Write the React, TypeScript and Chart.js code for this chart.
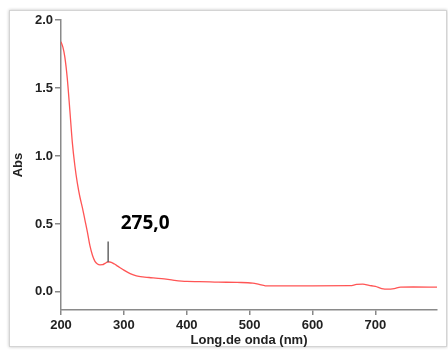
import React, { useEffect, useRef } from "react";
import { Chart, registerables } from "chart.js";

Chart.register(...registerables);

const wavelengths = [200, 203, 206, 210, 214, 218, 222, 226, 230, 234, 238, 242, 246, 250, 254, 258, 262, 266, 270, 275, 280, 285, 290, 300, 310, 320, 330, 340, 360, 380, 400, 420, 450, 480, 505, 515, 525, 560, 600, 660, 670, 680, 690, 700, 710, 720, 730, 740, 760, 798];
const absorbance = [1.84, 1.8, 1.73, 1.57, 1.34, 1.1, 0.93, 0.8, 0.7, 0.62, 0.53, 0.44, 0.34, 0.27, 0.225, 0.205, 0.199, 0.2, 0.21, 0.222, 0.218, 0.205, 0.19, 0.16, 0.135, 0.118, 0.11, 0.106, 0.098, 0.085, 0.077, 0.076, 0.072, 0.07, 0.065, 0.055, 0.045, 0.045, 0.045, 0.046, 0.055, 0.057, 0.048, 0.04, 0.025, 0.02, 0.025, 0.035, 0.036, 0.035];
const yTicks = [0, 0.5, 1.0, 1.5, 2.0];
const xTicks = [200, 300, 400, 500, 600, 700];
const peakWavelength = 275;
const peakAbs = 0.218;
const markerTop = 0.37;
const peakLabel = "275,0";

const tickFont = { family: "'Liberation Sans', Arial, sans-serif", size: 13, weight: "bold" as const };

const peakPlugin = {
  id: "peakMarker",
  afterDatasetsDraw(chart: any) {
    const { ctx, scales } = chart;
    const px = scales.x.getPixelForValue(peakWavelength);
    const yb = scales.y.getPixelForValue(peakAbs);
    const yt = scales.y.getPixelForValue(markerTop);
    ctx.save();
    ctx.strokeStyle = "#666";
    ctx.lineWidth = 1.5;
    ctx.beginPath();
    ctx.moveTo(px, yb);
    ctx.lineTo(px, yt);
    ctx.stroke();
    ctx.fillStyle = "#000";
    ctx.font = "bold 19px 'Open Sans', 'Noto Sans', sans-serif";
    ctx.textAlign = "left";
    ctx.textBaseline = "middle";
    ctx.fillText(peakLabel, px + 12.5, yt - 18);
    ctx.restore();
  },
};

export default function App() {
  const ref = useRef<HTMLCanvasElement>(null);
  useEffect(() => {
    if (!ref.current) return;
    const chart = new Chart(ref.current, {
      type: "line",
      data: {
        datasets: [
          {
            data: wavelengths.map((w, i) => ({ x: w, y: absorbance[i] })),
            borderColor: "rgb(255,85,85)",
            borderWidth: 1.3,
            pointRadius: 0,
            cubicInterpolationMode: "monotone",
            fill: false,
          },
        ],
      },
      options: {
        animation: false,
        responsive: false,
        maintainAspectRatio: false,
        layout: { padding: { left: 0, right: 11, top: 20, bottom: 0 } },
        plugins: { legend: { display: false }, tooltip: { enabled: false } },
        scales: {
          x: {
            type: "linear",
            min: 200,
            max: 798,
            afterBuildTicks: (s: any) => {
              s.ticks = xTicks.map((v) => ({ value: v }));
            },
            afterFit: (s: any) => {
              s.height = 40;
            },
            grid: { drawOnChartArea: false, color: "#888", tickLength: 5, lineWidth: 1.5 },
            border: { display: true, color: "#8a8a8a", width: 1.5 },
            ticks: { font: tickFont, color: "#222", padding: 3, maxRotation: 0, callback: (v: any) => String(v) },
            title: {
              display: true,
              text: "Long.de onda (nm)",
              font: tickFont,
              color: "#222",
              padding: { top: 0, bottom: 2 },
            },
          },
          y: {
            type: "linear",
            min: -0.133,
            max: 2.0,
            afterBuildTicks: (s: any) => {
              s.ticks = yTicks.map((v) => ({ value: v }));
            },
            afterFit: (s: any) => {
              s.width = 61;
            },
            grid: { drawOnChartArea: false, color: "#888", tickLength: 6, lineWidth: 1.5 },
            border: { display: true, color: "#8a8a8a", width: 1.5 },
            ticks: { font: tickFont, color: "#222", padding: 2, callback: (v: any) => Number(v).toFixed(1) },
            title: {
              display: true,
              text: "Abs",
              font: tickFont,
              color: "#222",
              padding: { top: 11, bottom: 0 },
            },
          },
        },
      },
      plugins: [peakPlugin],
    } as any);
    return () => chart.destroy();
  }, []);

  return (
    <div style={{ position: "absolute", left: 0, top: 0, width: 448, height: 350, background: "#fff" }}>
      <div
        style={{
          position: "absolute",
          left: 9,
          top: 10,
          width: 436,
          height: 335,
          border: "1px solid #d4d4d4",
          boxShadow: "0 0 3px rgba(0,0,0,0.25)",
          background: "#fff",
        }}
      />
      <canvas ref={ref} width={448} height={350} style={{ position: "absolute", left: 0, top: 0 }} />
    </div>
  );
}
